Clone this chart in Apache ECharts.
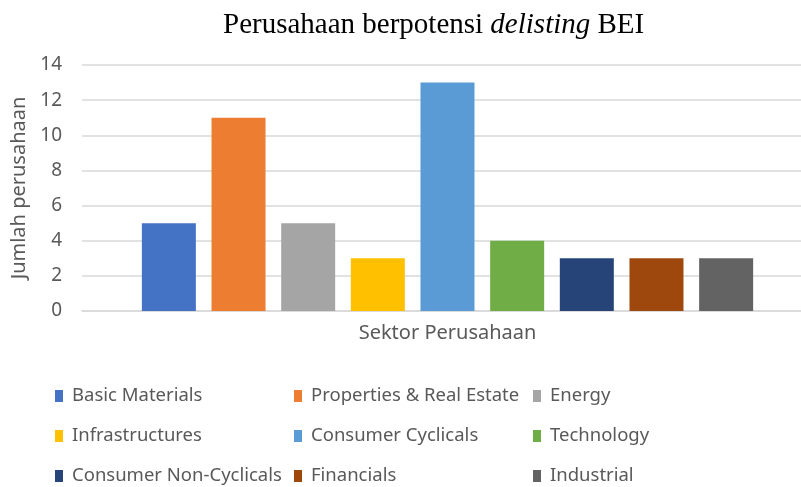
<!DOCTYPE html>
<html>
<head>
<meta charset="utf-8">
<script src="https://cdn.jsdelivr.net/npm/echarts@6/dist/echarts.min.js"></script>
<style>
    html, body { margin: 0; padding: 0; background: #fff; }
    #chart { width: 801px; height: 487px; }
</style>
</head>
<body>
<div id="chart"></div>
<script>
// data
var categories = ['Sektor Perusahaan'];
var sectors = [
    'Basic Materials', 'Properties & Real Estate', 'Energy',
    'Infrastructures', 'Consumer Cyclicals', 'Technology',
    'Consumer Non-Cyclicals', 'Financials', 'Industrial'
];
var counts = [5, 11, 5, 3, 13, 4, 3, 3, 3];
var colors = ['#4472C4', '#ED7D31', '#A5A5A5', '#FFC000', '#5B9BD5', '#70AD47', '#264478', '#9E480E', '#636363'];

var chart = echarts.init(document.getElementById('chart'));

var series = sectors.map(function (name, i) {
    return {
        name: name,
        type: 'bar',
        barWidth: 54,
        barGap: '29%',
        itemStyle: {color: colors[i]},
        data: [counts[i]]
    };
});

var option = {
    animation: false,
    backgroundColor: '#fff',
    color: colors,
    title: {
        text: '{n|Perusahaan berpotensi }{i|delisting}{n| BEI}',
        left: 223,
        top: 11,
        padding: 0,
        textStyle: {
            rich: {
                n: {fontFamily: 'Liberation Serif', fontSize: 29, fontWeight: 'normal', color: '#000'},
                i: {fontFamily: 'Liberation Serif', fontSize: 29, fontWeight: 'normal', color: '#000', fontStyle: 'italic'}
            }
        }
    },
    legend: {
        data: sectors,
        left: 55,
        top: 380,
        width: 740,
        padding: 0,
        itemWidth: 8,
        itemHeight: 12,
        itemGap: 8,
        icon: 'rect',
        textStyle: {
            fontFamily: 'Noto Sans',
            fontSize: 18.5,
            color: '#595959',
            width: 214,
            lineHeight: 32,
            padding: [0, 0, 0, 4]
        }
    },
    grid: {
        left: 82,
        top: 65,
        width: 731,
        height: 246,
        outerBoundsMode: 'none'
    },
    xAxis: {
        type: 'category',
        data: categories,
        axisLine: {lineStyle: {color: '#d9d9d9', width: 1.5}},
        axisTick: {show: false},
        axisLabel: {
            margin: 12,
            fontFamily: 'Noto Sans',
            fontSize: 20,
            color: '#595959'
        }
    },
    yAxis: {
        type: 'value',
        min: 0,
        max: 14,
        interval: 2,
        name: 'Jumlah perusahaan',
        nameLocation: 'middle',
        nameRotate: 90,
        nameGap: 52,
        nameTextStyle: {fontFamily: 'Noto Sans', fontSize: 20, color: '#595959'},
        axisLine: {show: false},
        axisTick: {show: false},
        axisLabel: {
            margin: 20,
            fontFamily: 'Noto Sans',
            fontSize: 19,
            color: '#595959'
        },
        splitLine: {lineStyle: {color: '#d9d9d9', width: 1.5}}
    },
    series: series
};

chart.setOption(option);
</script>
</body>
</html>
